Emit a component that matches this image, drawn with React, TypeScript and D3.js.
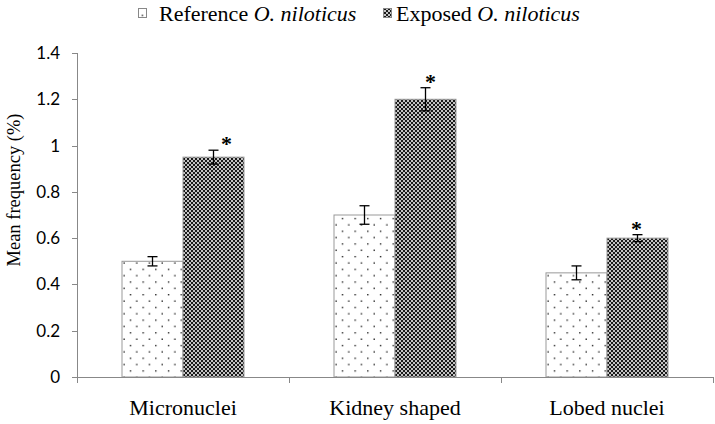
import React from "react";
import * as d3 from "d3";

const categories = ["Micronuclei", "Kidney shaped", "Lobed nuclei"];
const seriesNames = ["Reference", "Exposed"];
const referenceValues = [0.5, 0.7, 0.45];
const exposedValues = [0.95, 1.2, 0.6];
const referenceErrors = [0.02, 0.04, 0.03];
const exposedErrors = [0.03, 0.05, 0.015];
const significant = [true, true, true];
const yTicks = [0, 0.2, 0.4, 0.6, 0.8, 1, 1.2, 1.4];

const W = 715;
const H = 424;
const left = 77;
const right = 713;
const top = 53;
const bottom = 377;
const barW = 61;

export default function App() {
  const x = d3.scaleBand<string>().domain(categories).range([left, right]).padding(0);
  const xs = d3
    .scaleBand<string>()
    .domain(seriesNames)
    .range([x.bandwidth() / 2 - barW, x.bandwidth() / 2 + barW])
    .padding(0);
  const y = d3.scaleLinear().domain([0, 1.4]).range([bottom, top]);
  const series = [
    { name: "Reference", values: referenceValues, errs: referenceErrors, fill: "url(#dots)" },
    { name: "Exposed", values: exposedValues, errs: exposedErrors, fill: "url(#checker)" },
  ];
  const starDx = [13, 5, -1];
  const serif = "'Liberation Serif', 'Times New Roman', serif";
  const sans = "Lato, 'Liberation Sans', sans-serif";

  return (
    <svg width={W} height={H} style={{ position: "absolute", left: 0, top: 0, background: "#fff" }}>
      <defs>
        <pattern id="dots" width={12.7} height={12.7} patternUnits="userSpaceOnUse">
          <rect width={12.7} height={12.7} fill="#fff" />
          <rect x={2} y={2} width={1.3} height={1.3} fill="#000" />
          <rect x={8.35} y={8.35} width={1.3} height={1.3} fill="#000" />
        </pattern>
        <pattern id="checker" width={4} height={4} patternUnits="userSpaceOnUse">
          <rect width={4} height={4} fill="#c4c4c4" />
          <rect x={0} y={0} width={2} height={2} fill="#1a1a1a" />
          <rect x={2} y={2} width={2} height={2} fill="#1a1a1a" />
        </pattern>
      </defs>

      {/* Legend */}
      <g style={{ fontFamily: serif }} fontSize={22} fill="#000">
        <rect x={138.5} y={8.5} width={8} height={9} fill="url(#dots)" stroke="#888" />
        <text x={159} y={21}>
          Reference <tspan fontStyle="italic">O. niloticus</tspan>
        </text>
        <rect x={383.5} y={8.5} width={8} height={9} fill="url(#checker)" stroke="#888" />
        <text x={396} y={21}>
          Exposed <tspan fontStyle="italic">O. niloticus</tspan>
        </text>
      </g>

      {/* Y axis */}
      <line x1={left + 0.5} x2={left + 0.5} y1={top} y2={bottom} stroke="#888" />
      {yTicks.map((t) => (
        <g key={t}>
          <line x1={left - 5} x2={left} y1={Math.round(y(t)) + 0.5} y2={Math.round(y(t)) + 0.5} stroke="#888" />
          <text x={60} y={y(t) + 6} textAnchor="end" style={{ fontFamily: sans }} fontSize={17} fill="#000">
            {d3.format("~g")(t)}
          </text>
        </g>
      ))}
      <text
        transform={`translate(20,190) rotate(-90)`}
        textAnchor="middle"
        style={{ fontFamily: serif }}
        fontSize={18.5}
        fill="#000"
      >
        Mean frequency (%)
      </text>

      {/* Bars */}
      {categories.map((c, i) => (
        <g key={c} transform={`translate(${x(c)},0)`}>
          {series.map((s) => {
            const bx = xs(s.name)!;
            const v = s.values[i];
            const e = s.errs[i];
            const cx = bx + xs.bandwidth() / 2;
            return (
              <g key={s.name}>
                <rect x={bx} y={y(v)} width={xs.bandwidth()} height={bottom - y(v)} fill={s.fill} stroke="#999" strokeWidth={1} />
                <line x1={cx} x2={cx} y1={y(v + e)} y2={y(v - e)} stroke="#000" strokeWidth={1.3} />
                <line x1={cx - 5} x2={cx + 5} y1={y(v + e)} y2={y(v + e)} stroke="#000" strokeWidth={1.3} />
                <line x1={cx - 5} x2={cx + 5} y1={y(v - e)} y2={y(v - e)} stroke="#000" strokeWidth={1.3} />
              </g>
            );
          })}
          {significant[i] && (
            <text
              x={xs("Exposed")! + xs.bandwidth() / 2 + starDx[i]}
              y={y(exposedValues[i] + exposedErrors[i]) + 1}
              textAnchor="middle"
              style={{ fontFamily: serif }}
              fontWeight="bold"
              fontSize={22}
            >
              *
            </text>
          )}
        </g>
      ))}

      {/* X axis */}
      <line x1={left} x2={right} y1={bottom + 0.5} y2={bottom + 0.5} stroke="#888" />
      {[...categories.map((c) => x(c)!), right].map((p, i) => (
        <line key={i} x1={Math.round(p) + 0.5} x2={Math.round(p) + 0.5} y1={bottom} y2={bottom + 6} stroke="#888" />
      ))}
      {categories.map((c) => (
        <text key={c} x={x(c)! + x.bandwidth() / 2} y={415} textAnchor="middle" style={{ fontFamily: serif }} fontSize={22} fill="#000">
          {c}
        </text>
      ))}
    </svg>
  );
}
